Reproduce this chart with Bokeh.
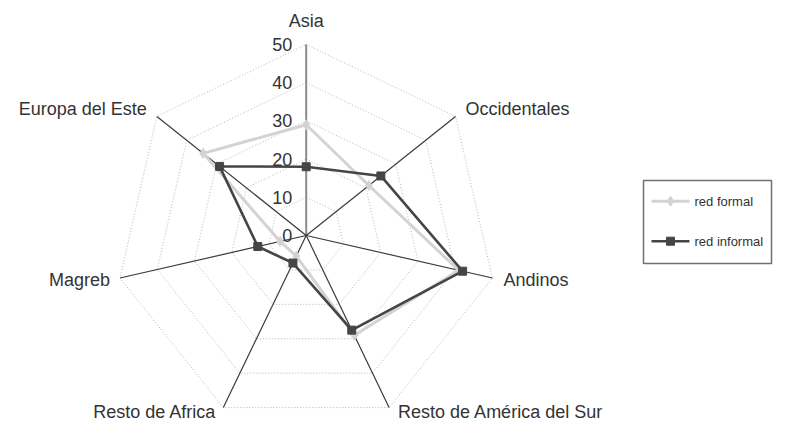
import numpy as np
from bokeh.plotting import figure
from bokeh.models import Range1d
from bokeh.core.properties import value
from bokeh.embed import file_html
from bokeh.resources import INLINE

# ---- data ----
categories = ["Asia", "Occidentales", "Andinos", "Resto de América del Sur",
              "Resto de Africa", "Magreb", "Europa del Este"]
red_formal = [29, 21, 41, 29, 6, 7, 34.5]
red_informal = [18, 25, 42, 27.5, 8, 13, 29]
ticks = [0, 10, 20, 30, 40, 50]
series_names = ["red formal", "red informal"]

# ---- layout ----
S = 3.82                 # pixels per value unit
CX, CY = 305.7, 235.0    # pixel position of the radar centre within the figure
W, H = 775, 422
RMAX = ticks[-1]

p = figure(width=W, height=H, output_backend="svg", toolbar_location=None,
           x_range=Range1d(-CX / S, (W - CX) / S),
           y_range=Range1d(-(H - CY) / S, CY / S),
           min_border=0)
p.axis.visible = False
p.grid.visible = False
p.outline_line_color = None

FONT = value("Liberation Sans")


def px(xp, yp):
    return (xp - CX) / S, (CY - yp) / S


n = len(categories)
ang = np.pi / 2 - 2 * np.pi * np.arange(n) / n
ca, sa = np.cos(ang), np.sin(ang)

# grid heptagons
gx, gy = [], []
for t in ticks[1:]:
    gx.append(list(t * ca) + [t * ca[0]])
    gy.append(list(t * sa) + [t * sa[0]])
p.multi_line(gx, gy, line_color="#b5b5b5", line_width=1, line_dash="1 2")

# category axes
for i in range(n):
    if i == 0:
        p.line([0, RMAX * ca[i]], [0, RMAX * sa[i]], line_color="#8a8a8a", line_width=2)
    else:
        p.line([0, RMAX * ca[i]], [0, RMAX * sa[i]], line_color="#3a3a3a", line_width=1.2)


def closed(vals):
    v = np.array(vals, dtype=float)
    x = v * ca
    y = v * sa
    return list(x) + [x[0]], list(y) + [y[0]], list(x), list(y)


fx, fy, fpx, fpy = closed(red_formal)
p.line(fx, fy, line_color="#d3d3d3", line_width=3)
p.scatter(fpx, fpy, marker="diamond", size=10, fill_color="#d3d3d3", line_color="#d3d3d3")

ix, iy, ipx, ipy = closed(red_informal)
p.line(ix, iy, line_color="#454545", line_width=2.6)
p.scatter(ipx, ipy, marker="square", size=8, fill_color="#454545", line_color="#454545")

# tick labels
p.text(x=[-14 / S] * len(ticks), y=ticks, text=[str(t) for t in ticks],
       text_align="right", text_baseline="middle", text_font=FONT,
       text_font_size="18px", text_color="#333333")

# category labels
offs = [(0, -24, "center"), (10, -7, "left"), (11, 2, "left"), (9, 4, "left"),
        (-7, 4, "right"), (-10, 2, "right"), (-10, -7, "right")]
for i, c in enumerate(categories):
    dx, dy, al = offs[i]
    p.text(x=[RMAX * ca[i] + dx / S], y=[RMAX * sa[i] - dy / S], text=[c],
           text_align=al, text_baseline="middle", text_font=FONT,
           text_font_size="18px", text_color="#333333")

# legend (drawn manually)
lx0, ly0 = px(643, 180)
lx1, ly1 = px(771, 263)
p.quad(left=[lx0], right=[lx1], top=[ly0], bottom=[ly1], fill_color=None,
       line_color="#6f6f6f", line_width=1.5)
styles = [("#d3d3d3", 3, "diamond", 10), ("#454545", 2.6, "square", 8)]
for k, name in enumerate(series_names):
    yy = 200.7 + 40 * k
    col, lw, mk, ms = styles[k]
    a = px(651, yy)
    b = px(689, yy)
    p.line([a[0], b[0]], [a[1], b[1]], line_color=col, line_width=lw)
    m = px(670, yy)
    p.scatter([m[0]], [m[1]], marker=mk, size=ms, fill_color=col, line_color=col)
    t = px(694, yy)
    p.text(x=[t[0]], y=[t[1]], text=[name], text_align="left", text_baseline="middle",
           text_font=FONT, text_font_size="13px", text_color="#333333")

open("out.html", "w").write(file_html(p, INLINE))
